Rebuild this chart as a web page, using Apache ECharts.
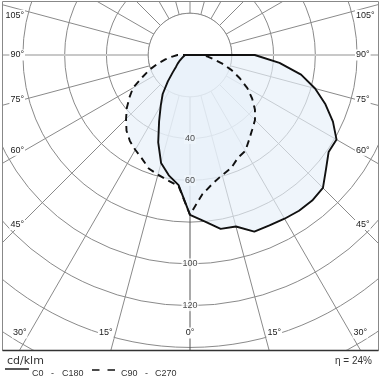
<!DOCTYPE html>
<html><head><meta charset="utf-8">
<script src="https://cdn.jsdelivr.net/npm/echarts@6/dist/echarts.min.js"></script>
<style>html,body{margin:0;padding:0;background:#fff}#chart{width:380px;height:380px}</style>
</head><body><div id="chart"></div>
<script>
// Gamma angles (degrees from nadir) and luminous intensity (cd/klm) per C-plane
const gamma = [0, 5, 10, 15, 20, 25, 30, 35, 40, 45, 50, 55, 60, 65, 70, 75, 80, 85, 90, 95];
const c0    = [76.5, 80, 84.5, 85, 90, 90, 90.5, 91, 91, 90, 85, 81, 81, 75.5, 69, 62, 54, 43, 31, 0];
const c180  = [76.5, 62.5, 58.5, 53.5, 44.5, 35, 28, 22.8, 16.5, 11.6, 8.7, 7.2, 5.9, 4.9, 4, 3.4, 3, 2.7, 2.4, 0];
const c90   = [76.5, 67, 62.5, 59.5, 57.6, 54.3, 53, 49.4, 46.4, 44, 40.6, 36.3, 31.7, 26.3, 21.2, 16, 11.5, 8.5, 5, 0];
const c270  = [76.5, 63, 61, 59.3, 57.8, 54.6, 52.4, 50.2, 47.3, 43.3, 39.5, 35.4, 31.5, 25.2, 20.7, 16, 12, 8.5, 6, 0];
const radialLabels = [40, 60, 100, 120];
const angleLabels = [0, 15, 30, 45, 60, 75, 90, 105];
const unitLabel = 'cd/klm';
const efficiencyLabel = 'η = 24%';
const legendSolid = ['C0', '-', 'C180'];
const legendDashed = ['C90', '-', 'C270'];

// layout
const CX = 190, CY = 55, RMAX = 180, RPX = 376, RING = 20;
const FRAME = {l: 2.5, t: 1.5, r: 378.5, b: 350.5};
const LBOX = {l: 25, r: 355, b: 333};
const GRID = '#8a8a8a';
const FILL = 'rgb(230,239,249)';
const FONT = '"Liberation Sans", Arial, sans-serif';

function planeData(right, left) {
  const pts = [];
  for (let i = gamma.length - 1; i >= 0; i--) pts.push([left[i], 360 - gamma[i]]);
  for (let i = 0; i < gamma.length; i++) pts.push([right[i], gamma[i]]);
  return pts;
}
const solidData = planeData(c0, c180);
const dashedData = planeData(c90, c270);

const ringData = [];
for (let a = 0; a <= 360; a += 5) ringData.push([RING, a]);

const angleColors = [];
for (let i = 0; i < 24; i++) angleColors.push(i === 0 ? '#555' : (i === 6 || i === 18) ? '#c8c8c8' : GRID);

function labelPos(g, side) {
  const s = Math.sin(g * Math.PI / 180), c = Math.cos(g * Math.PI / 180);
  if (s < 1e-6) return {x: CX, y: LBOX.b, align: 'center', va: 'middle'};
  let t = (side < 0 ? CX - LBOX.l : LBOX.r - CX) / s;
  const y = CY + t * c;
  if (y > LBOX.b) {
    t = (LBOX.b - CY) / c;
    return {x: CX + side * (t * s + 2), y: LBOX.b, align: side < 0 ? 'right' : 'left', va: 'middle'};
  }
  const va = (g > 90 || g <= 45) ? 'top' : 'middle';
  return {x: side < 0 ? LBOX.l : LBOX.r, y: va === 'top' ? y - 1 : y, align: side < 0 ? 'right' : 'left', va: va};
}

const graphics = [
  {type: 'rect', shape: {x: 0, y: 0, width: 380, height: FRAME.t}, style: {fill: '#fff'}, z: 50, silent: true},
  {type: 'rect', shape: {x: 0, y: 0, width: FRAME.l, height: 380}, style: {fill: '#fff'}, z: 50, silent: true},
  {type: 'rect', shape: {x: FRAME.r, y: 0, width: 380 - FRAME.r, height: 380}, style: {fill: '#fff'}, z: 50, silent: true},
  {type: 'rect', shape: {x: 0, y: FRAME.b, width: 380, height: 380 - FRAME.b}, style: {fill: '#fff'}, z: 50, silent: true},
  {type: 'rect', shape: {x: FRAME.l, y: FRAME.t, width: FRAME.r - FRAME.l, height: FRAME.b - FRAME.t}, style: {fill: null, stroke: '#888', lineWidth: 1}, z: 51, silent: true},
  {type: 'line', shape: {x1: FRAME.l, y1: FRAME.b, x2: FRAME.r, y2: FRAME.b}, style: {stroke: '#333', lineWidth: 1.3}, z: 52, silent: true}
];
angleLabels.forEach(function (g) {
  const sides = g === 0 ? [1] : [-1, 1];
  sides.forEach(function (side) {
    const p = labelPos(g, side);
    graphics.push({type: 'text', x: p.x, y: p.y, z: 60, silent: true,
      style: {text: g + '°', font: '9px ' + FONT, fill: '#222', align: p.align, verticalAlign: p.va, backgroundColor: '#fff', padding: [1, 1]}});
  });
});
// legend
graphics.push({type: 'text', x: 7, y: 361, z: 60, style: {text: unitLabel, font: '11px "DejaVu Sans", sans-serif', fill: '#333', align: 'left', verticalAlign: 'middle'}});
graphics.push({type: 'line', shape: {x1: 5, y1: 369, x2: 29, y2: 369}, style: {stroke: '#111', lineWidth: 1.4}, z: 60});
graphics.push({type: 'line', shape: {x1: 92, y1: 370, x2: 115, y2: 370}, style: {stroke: '#111', lineWidth: 1.4, lineDash: [7.5, 8]}, z: 60});
[[32, 51, 62, legendSolid], [121, 145, 155, legendDashed]].forEach(function (row) {
  for (let i = 0; i < 3; i++) {
    graphics.push({type: 'text', x: row[i], y: 374, z: 60, style: {text: row[3][i], font: '9px ' + FONT, fill: '#333', align: 'left', verticalAlign: 'middle'}});
  }
});
graphics.push({type: 'text', x: 372, y: 361, z: 60, style: {text: efficiencyLabel, font: '10px ' + FONT, fill: '#333', align: 'right', verticalAlign: 'middle'}});

const chart = echarts.init(document.getElementById('chart'), null, {renderer: 'canvas'});
chart.setOption({
  animation: false,
  backgroundColor: '#fff',
  polar: {center: [CX, CY], radius: RPX},
  angleAxis: {
    type: 'value', min: 0, max: 360, interval: 15, startAngle: 270, clockwise: false,
    axisLine: {show: false}, axisTick: {show: false}, axisLabel: {show: false},
    splitLine: {show: true, lineStyle: {color: angleColors, width: 1}}
  },
  radiusAxis: {
    type: 'value', min: 0, max: RMAX, interval: 20,
    axisLine: {show: false}, axisTick: {show: false}, axisLabel: {show: false},
    splitLine: {show: true, lineStyle: {color: GRID, width: 1}}
  },
  series: [
    {type: 'line', coordinateSystem: 'polar', silent: true, symbol: 'none', z: 1,
      data: [[RMAX, 270], [0, 0], [RMAX, 90]], lineStyle: {color: '#c8c8c8', width: 2}},
    {type: 'line', coordinateSystem: 'polar', silent: true, symbol: 'none', z: 1.5,
      data: ringData, lineStyle: {color: GRID, width: 1}, areaStyle: {color: '#fff', opacity: 1}},
    {type: 'line', coordinateSystem: 'polar', silent: true, symbol: 'none', z: 2,
      data: solidData, lineStyle: {width: 0}, areaStyle: {color: FILL, opacity: 0.65}},
    {type: 'line', coordinateSystem: 'polar', silent: true, symbol: 'none', z: 2,
      data: dashedData, lineStyle: {width: 0}, areaStyle: {color: FILL, opacity: 0.65}},
    {name: 'C0 - C180', type: 'line', coordinateSystem: 'polar', silent: true, symbol: 'none', z: 4,
      data: solidData, lineStyle: {color: '#111', width: 1.9}},
    {name: 'C90 - C270', type: 'line', coordinateSystem: 'polar', silent: true, symbol: 'none', z: 4,
      data: dashedData, lineStyle: {color: '#111', width: 1.9, type: [7, 5]}},
    {type: 'scatter', coordinateSystem: 'polar', silent: true, symbolSize: 0, z: 8,
      itemStyle: {color: 'rgba(0,0,0,0)'},
      data: radialLabels.map(function (v) { return {value: [v, 0], label: {backgroundColor: v <= 60 ? '#eff5fb' : '#fff'}}; }),
      label: {show: true, position: 'inside', formatter: function (p) { return p.value[0]; },
        fontSize: 9, fontFamily: 'Liberation Sans', color: '#222', padding: [1, 1]}}
  ],
  graphic: graphics
});
</script></body></html>
